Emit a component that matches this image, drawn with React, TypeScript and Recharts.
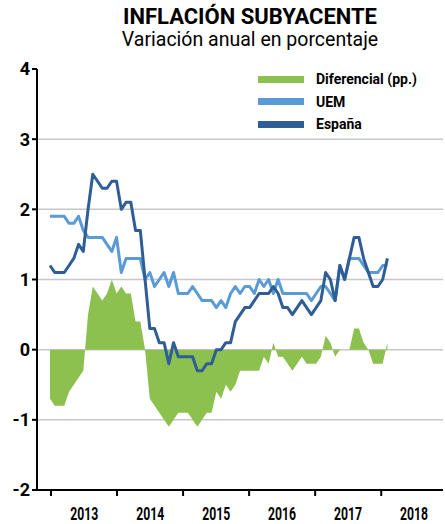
import React from 'react';
import { ComposedChart, Area, Line, XAxis, YAxis, CartesianGrid } from 'recharts';

// Monthly observations (index 0 = first month shown)
const ESPANA = [
  1.2, 1.1, 1.1, 1.1, 1.2, 1.3, 1.5, 1.4, 2.0, 2.5, 2.4, 2.3,
  2.3, 2.4, 2.4, 2.0, 2.1, 2.1, 1.7, 1.7, 1.0, 0.3, 0.3, 0.1,
  0.1, -0.2, 0.1, -0.1, -0.1, -0.1, -0.1, -0.3, -0.3, -0.2, -0.2, 0.0,
  0.0, 0.1, 0.1, 0.4, 0.5, 0.6, 0.6, 0.7, 0.8, 0.8, 0.8, 0.9,
  0.8, 0.6, 0.6, 0.5, 0.6, 0.7, 0.6, 0.5, 0.6, 0.7, 1.1, 1.0,
  0.7, 1.2, 1.0, 1.3, 1.6, 1.6, 1.3, 1.1, 0.9, 0.9, 1.0, 1.3,
];
const UEM = [
  1.9, 1.9, 1.9, 1.9, 1.8, 1.8, 1.9, 1.7, 1.6, 1.6, 1.6, 1.6,
  1.5, 1.4, 1.6, 1.1, 1.3, 1.3, 1.3, 1.3, 1.0, 1.1, 0.9, 1.0,
  1.1, 0.9, 1.1, 0.8, 0.8, 0.8, 0.9, 0.8, 0.7, 0.7, 0.7, 0.6,
  0.7, 0.6, 0.8, 0.9, 0.8, 0.9, 0.9, 0.8, 1.0, 0.9, 1.0, 0.8,
  1.0, 0.8, 0.8, 0.8, 0.8, 0.8, 0.8, 0.7, 0.8, 0.9, 0.9, 0.8,
  0.7, 1.2, 1.0, 1.3, 1.3, 1.3, 1.2, 1.1, 1.1, 1.1, 1.2, 1.2,
];
const DIFERENCIAL = [
  -0.7, -0.8, -0.8, -0.8, -0.6, -0.5, -0.4, -0.3, 0.5, 0.9, 0.8, 0.7,
  0.8, 1.0, 0.8, 0.9, 0.8, 0.8, 0.4, 0.4, 0.0, -0.7, -0.8, -0.9,
  -1.0, -1.1, -1.0, -0.9, -0.9, -0.9, -1.0, -1.1, -1.0, -0.9, -0.9, -0.6,
  -0.7, -0.5, -0.6, -0.5, -0.3, -0.3, -0.3, -0.3, -0.3, -0.1, -0.2, 0.1,
  -0.1, -0.1, -0.2, -0.3, -0.2, -0.1, -0.2, -0.2, -0.2, -0.1, 0.2, 0.1,
  -0.1, 0.0, 0.0, 0.0, 0.3, 0.3, 0.1, 0.0, -0.2, -0.2, -0.2, 0.1,
];

const YEARS = ['2013', '2014', '2015', '2016', '2017', '2018'];
const YEAR_BOUNDARY_TICKS = [0.2, 14.1, 28, 41.9, 55.8, 69.7];
const YEAR_LABEL_TICKS = [7.2, 21.1, 35, 48.8, 62.7, 76.6];
const X_TICKS = [...YEAR_BOUNDARY_TICKS, ...YEAR_LABEL_TICKS].sort((a, b) => a - b);
const X_DOMAIN = [-2.74, 82.7];
const Y_TICKS = [-2, -1, 0, 1, 2, 3, 4];
const GRID_VALUES = [-1, 0, 1, 2, 3];

const GREEN = '#8CC150';
const LIGHT = '#5B9BD5';
const DARK = '#2F5D95';

const LEGEND = [
  { label: 'Diferencial (pp.)', color: GREEN },
  { label: 'UEM', color: LIGHT },
  { label: 'España', color: DARK },
];

const data = ESPANA.map((v, i) => ({ m: i, esp: v, uem: UEM[i], dif: DIFERENCIAL[i] }));

const FONT = 'Roboto, "Noto Sans", sans-serif';

const YearTick = (props: any) => {
  const { x, y, payload } = props;
  const b = YEAR_BOUNDARY_TICKS.indexOf(payload.value);
  if (b >= 0) {
    return <line x1={x} x2={x} y1={y} y2={y + 6} stroke="#000" strokeWidth={2} />;
  }
  const idx = YEAR_LABEL_TICKS.indexOf(payload.value);
  const label = YEARS[idx] ?? '';
  return (
    <text
      x={x}
      y={y}
      dy={29.5}
      textAnchor="middle"
      fontFamily={FONT}
      fontWeight={700}
      fontSize={18}
      textLength={28}
      lengthAdjust="spacingAndGlyphs"
      fill="#000"
    >
      {label}
    </text>
  );
};

export default function App() {
  return (
    <div style={{ position: 'absolute', left: 0, top: 0, width: 445, height: 524, background: '#fff', fontFamily: FONT }}>
      <div
        style={{
          position: 'absolute', left: 100, top: 5, width: 300, textAlign: 'center',
          fontSize: 22, lineHeight: '24px', fontWeight: 700, color: '#000',
        }}
      >
        INFLACIÓN SUBYACENTE
      </div>
      <div
        style={{
          position: 'absolute', left: 100, top: 29, width: 300, textAlign: 'center',
          fontSize: 19.5, lineHeight: '22px', fontWeight: 400, color: '#000',
        }}
      >
        Variación anual en porcentaje
      </div>
      <ComposedChart width={445} height={524} data={data} margin={{ top: 69, right: 2, bottom: 0, left: 0 }}>
        <CartesianGrid
          vertical={false}
          horizontalValues={GRID_VALUES}
          stroke="#C8C8C8"
          strokeWidth={1.5}
        />
        <XAxis
          type="number"
          dataKey="m"
          domain={X_DOMAIN}
          allowDataOverflow
          ticks={X_TICKS}
          interval={0}
          tick={<YearTick />}
          tickSize={0}
          tickMargin={0}
          height={34}
          axisLine={{ stroke: '#000', strokeWidth: 2 }}
          tickLine={false}
        />
        <YAxis
          type="number"
          domain={[-2, 4]}
          ticks={Y_TICKS}
          interval={0}
          width={37}
          tickSize={5}
          tickMargin={2}
          axisLine={{ stroke: '#000', strokeWidth: 2 }}
          tickLine={{ stroke: '#000', strokeWidth: 2 }}
          tick={{ fill: '#000', fontSize: 18, fontWeight: 700, fontFamily: FONT }}
        />
        <Area
          type="linear"
          dataKey="dif"
          baseValue={0}
          fill={GREEN}
          fillOpacity={1}
          stroke="none"
          isAnimationActive={false}
        />
        <Line
          type="linear"
          dataKey="uem"
          stroke={LIGHT}
          strokeWidth={3}
          dot={false}
          strokeLinejoin="round"
          isAnimationActive={false}
        />
        <Line
          type="linear"
          dataKey="esp"
          stroke={DARK}
          strokeWidth={3}
          dot={false}
          strokeLinejoin="round"
          isAnimationActive={false}
        />
      </ComposedChart>
      {LEGEND.map((item, idx) => (
        <div
          key={item.label}
          style={{
            position: 'absolute', left: 258, top: 69 + idx * 22.5, height: 20,
            display: 'flex', alignItems: 'center', whiteSpace: 'nowrap',
          }}
        >
          <div style={{ width: 46, height: 7, background: item.color }} />
          <div style={{ marginLeft: 12, fontSize: 14, fontWeight: 700, color: '#000' }}>{item.label}</div>
        </div>
      ))}
    </div>
  );
}
